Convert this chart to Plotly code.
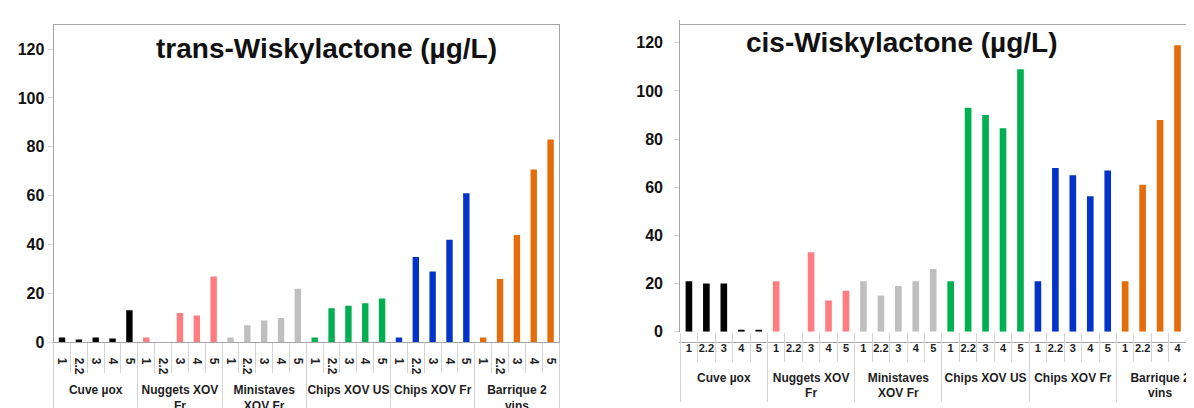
import plotly.graph_objects as go

groups = ["Cuve µox", "Nuggets XOV<br>Fr", "Ministaves<br>XOV Fr",
          "Chips XOV US", "Chips XOV Fr", "Barrique 2<br>vins"]
subcats = ["1", "2.2", "3", "4", "5"]
colors = ["#000000", "#ff7c80", "#bfbfbf", "#00b050", "#0433c9", "#e46c0a"]

trans_values = [
    [2, 1.2, 2, 1.6, 13.2],
    [2, 0, 12, 11, 27],
    [2, 7, 9, 10, 22],
    [2, 14, 15, 16, 18],
    [2, 35, 29, 42, 61],
    [2, 26, 44, 70.7, 83],
]
cis_values = [
    [21, 20, 20, 0.6, 0.6],
    [21, 0, 33, 13, 17],
    [21, 15, 19, 21, 26],
    [21, 93, 90, 84.5, 109],
    [21, 68, 65, 56.3, 67],
    [21, 61, 88, 119, 109],
]
titles = ["trans-Wiskylactone (µg/L)", "cis-Wiskylactone (µg/L)"]

FONT = "Liberation Sans, Arial, sans-serif"
W, H = 1194, 408
OFFX = 8  # page body margin shifts the figure horizontally


def sx(px):
    return (px - OFFX) / W


def sy(py):
    return (H - py) / H


ns = len(subcats)
n = ns * len(groups)
positions = list(range(n))
group_centers = [gi * ns + (ns - 1) / 2 for gi in range(len(groups))]

fig = go.Figure()
for gi in range(len(groups)):
    xs = positions[gi * ns:(gi + 1) * ns]
    fig.add_trace(go.Bar(x=xs, y=trans_values[gi], width=0.38,
                         marker=dict(color=colors[gi], line=dict(width=0)),
                         xaxis="x", yaxis="y", showlegend=False, hoverinfo="skip"))
    fig.add_trace(go.Bar(x=xs, y=cis_values[gi], width=0.38,
                         marker=dict(color=colors[gi], line=dict(width=0)),
                         xaxis="x2", yaxis="y2", showlegend=False, hoverinfo="skip"))

# invisible helper traces so the overlay axes (group labels, dividers) get drawn
for xa, ya in [("x3", "y"), ("x5", "y"), ("x4", "y2"), ("x6", "y2")]:
    fig.add_trace(go.Scatter(x=group_centers, y=[0] * len(groups), mode="none",
                             xaxis=xa, yaxis=ya, showlegend=False, hoverinfo="skip"))

frame = "#a6a6a6"
light = "#d4d4d4"
txt = "#1e1e1e"


def sub_axis(domain, rng, angle, size, weight, standoff, overflow):
    return dict(domain=domain, range=rng, tickmode="array", tickvals=positions,
                ticktext=subcats * len(groups), ticks="", tickangle=angle,
                ticklabelstandoff=standoff, ticklabeloverflow=overflow,
                tickfont=dict(family=FONT, size=size, color=txt, weight=weight),
                showline=True, linecolor=frame, linewidth=1, mirror=True,
                showgrid=False, zeroline=False, fixedrange=True)


def group_axis(over, anchor, rng, standoff):
    return dict(overlaying=over, anchor=anchor, range=rng, tickmode="array",
                tickvals=group_centers, ticktext=["<b>%s</b>" % g for g in groups],
                ticks="", tickangle=0, ticklabelstandoff=standoff,
                ticklabeloverflow="allow",
                tickfont=dict(family=FONT, size=12, color=txt),
                showline=False, showgrid=False, zeroline=False, fixedrange=True)


def divider_axis(over, anchor, rng, longlen, shortlen):
    return dict(overlaying=over, anchor=anchor, range=rng, tickmode="linear",
                tick0=-0.5, dtick=ns, ticks="outside", ticklen=longlen,
                tickcolor=light, tickwidth=1, showticklabels=False,
                minor=dict(tick0=-0.5, dtick=1, ticks="outside", ticklen=shortlen,
                           tickcolor=light, tickwidth=1, showgrid=False),
                showline=False, showgrid=False, zeroline=False, fixedrange=True)


def yax(domain, rng, anchor, mirror, standoff):
    return dict(domain=domain, range=rng, anchor=anchor, dtick=20,
                showline=True, linecolor=frame, mirror=mirror,
                ticks="outside", ticklen=5, tickcolor=light,
                ticklabelstandoff=standoff,
                tickfont=dict(family=FONT, size=16, color="#111111", weight="bold"),
                showgrid=False, zeroline=False, fixedrange=True)


rng_l = [-0.5, n - 0.5]
rng_r = [-0.5, -0.5 + (1194 - 680.2) / 17.45]

fig.update_layout(
    width=W, height=H, margin=dict(l=0, r=0, t=0, b=0),
    paper_bgcolor="white", plot_bgcolor="white", barmode="overlay",
    xaxis=sub_axis([sx(53.6), sx(559)], rng_l, 90, 12, "bold", 12, "allow"),
    yaxis=yax([sy(342), sy(17)], [0, 130], "x", True, 0),
    xaxis2=sub_axis([sx(680.2), sx(1194)], rng_r, 0, 11, "bold", -5,
                    "hide past domain"),
    yaxis2=yax([sy(331), sy(12)], [0, 129.6], "x2", False, 8),
    xaxis3=group_axis("x", "y", rng_l, 39),
    xaxis4=group_axis("x2", "y2", rng_r, 37),
    xaxis5=divider_axis("x", "y", rng_l, 70, 30),
    xaxis6=divider_axis("x2", "y2", rng_r, 69, 29),
    annotations=[
        dict(text="<b>%s</b>" % titles[0], x=sx(326), y=sy(41),
             xref="paper", yref="paper", xanchor="center", yanchor="middle",
             showarrow=False, font=dict(family=FONT, size=28, color="#111111")),
        dict(text="<b>%s</b>" % titles[1], x=sx(901.5), y=sy(35),
             xref="paper", yref="paper", xanchor="center", yanchor="middle",
             showarrow=False, font=dict(family=FONT, size=28, color="#111111")),
    ],
)

fig.write_html("out.html")
